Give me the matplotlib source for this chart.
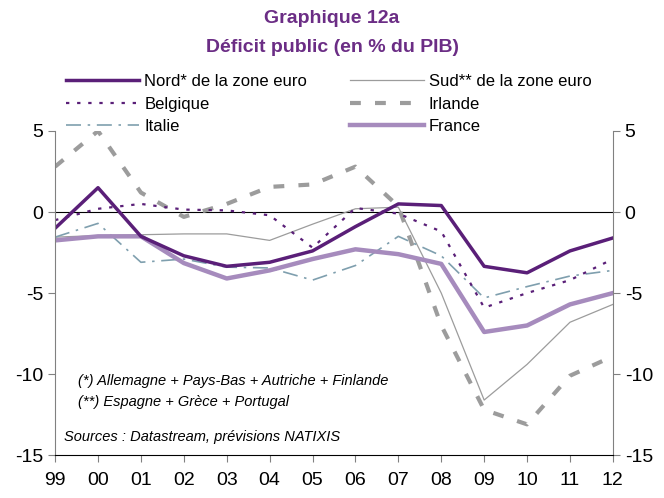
import matplotlib.pyplot as plt

plt.rcParams['font.family'] = ['Liberation Sans', 'DejaVu Sans']
plt.rcParams['axes.unicode_minus'] = False

# Déficit public (en % du PIB), 1999-2012
annees = list(range(1999, 2013))
etiquettes = ["99", "00", "01", "02", "03", "04", "05", "06", "07", "08", "09", "10", "11", "12"]

nord = [-1.0, 1.5, -1.5, -2.7, -3.35, -3.1, -2.4, -0.9, 0.5, 0.4, -3.35, -3.75, -2.4, -1.6]
sud = [-1.55, -1.45, -1.4, -1.35, -1.35, -1.75, -0.75, 0.2, 0.3, -5.0, -11.6, -9.4, -6.8, -5.7]
belgique = [-0.5, 0.2, 0.5, 0.15, 0.1, -0.2, -2.2, 0.25, -0.1, -1.2, -5.9, -5.0, -4.2, -2.9]
irlande = [2.8, 5.0, 1.2, -0.3, 0.5, 1.55, 1.7, 2.8, 0.35, -7.0, -12.2, -13.1, -10.1, -8.9]
italie = [-1.55, -0.7, -3.1, -2.9, -3.4, -3.45, -4.2, -3.3, -1.5, -2.7, -5.3, -4.6, -3.95, -3.6]
france = [-1.75, -1.5, -1.5, -3.15, -4.1, -3.6, -2.9, -2.3, -2.6, -3.2, -7.4, -7.0, -5.7, -5.0]

violet = "#5a1f78"
gris = "#9c9c9c"
bleu_gris = "#7f9fae"
mauve = "#a68bbd"

fig = plt.figure(figsize=(6.64, 4.98), dpi=100)
ax = fig.add_axes([0.083, 0.086, 0.840, 0.651])

ax.axhline(0, color="black", lw=0.8, zorder=1)

l_irl, = ax.plot(annees, irlande, color=gris, lw=3.0, dashes=(2.6, 3.4), label="Irlande")
l_sud, = ax.plot(annees, sud, color=gris, lw=0.9, label="Sud** de la zone euro")
l_ita, = ax.plot(annees, italie, color=bleu_gris, lw=1.2, dashes=(9, 4, 1.5, 4), label="Italie")
l_bel, = ax.plot(annees, belgique, color=violet, lw=1.6, dashes=(1.5, 3.5), label="Belgique")
l_fra, = ax.plot(annees, france, color=mauve, lw=3.2, label="France")
l_nord, = ax.plot(annees, nord, color=violet, lw=2.5, label="Nord* de la zone euro")

ax.set_xlim(1999, 2012)
ax.set_ylim(-15, 5)
ax.set_yticks([5, 0, -5, -10, -15])
ax.set_xticks(annees)
ax.set_xticklabels(etiquettes)
ax.tick_params(axis="both", labelsize=14, length=5, width=0.8, color="#808080", direction="out")
ax.tick_params(axis="x", pad=7)
ax.tick_params(axis="y", right=True, labelright=True)

for cote in ["left", "right"]:
    ax.spines[cote].set_color("#808080")
ax.spines["top"].set_visible(False)
ax.spines["bottom"].set_color("black")

# titre
fig.text(0.5, 0.962, "Graphique 12a", ha="center", va="center", fontsize=14,
         fontweight="bold", color="#6b2d85")
fig.text(0.5, 0.905, "Déficit public (en % du PIB)", ha="center", va="center", fontsize=14,
         fontweight="bold", color="#6b2d85")

# légende sur deux colonnes
leg_opts = dict(loc="upper left", frameon=False, fontsize=12, handlelength=4.4,
                handletextpad=0.3, labelspacing=0.45, borderpad=0)
fig.legend(handles=[l_nord, l_bel, l_ita], bbox_to_anchor=(0.087, 0.868), **leg_opts)
fig.legend(handles=[l_sud, l_irl, l_fra], bbox_to_anchor=(0.515, 0.868), **leg_opts)

# notes
ax.text(0.041, 0.228, "(*) Allemagne + Pays-Bas + Autriche + Finlande", transform=ax.transAxes,
        fontsize=10.5, style="italic", va="center")
ax.text(0.041, 0.164, "(**) Espagne + Grèce + Portugal", transform=ax.transAxes,
        fontsize=10.5, style="italic", va="center")
ax.text(0.016, 0.056, "Sources : Datastream, prévisions NATIXIS", transform=ax.transAxes,
        fontsize=10.5, style="italic", va="center")

fig.savefig("out.png", dpi=100)
